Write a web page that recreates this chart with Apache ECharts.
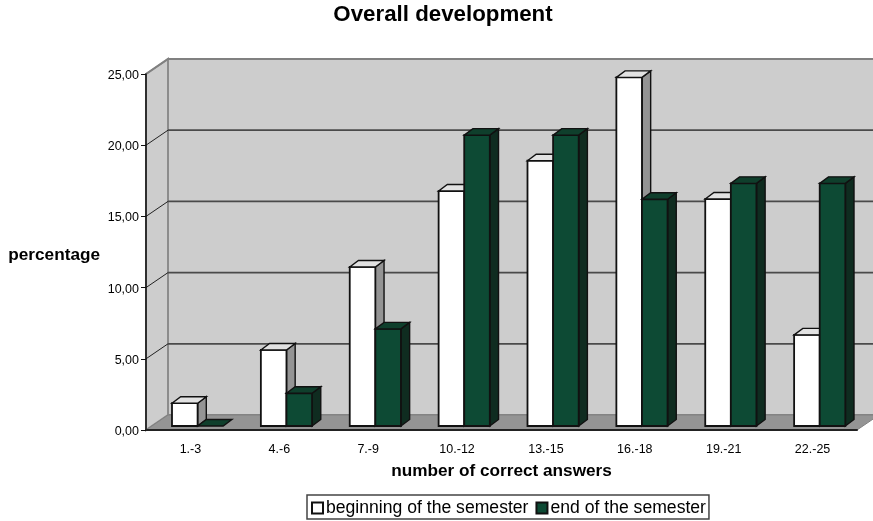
<!DOCTYPE html>
<html>
<head>
<meta charset="utf-8">
<style>html,body{margin:0;padding:0;background:#fff}#chart{width:873px;height:521px}</style>
<script src="https://cdn.jsdelivr.net/npm/echarts@6/dist/echarts.min.js"></script>
</head>
<body>
<div id="chart"></div>
<script>
const categories = ['1.-3', '4.-6', '7.-9', '10.-12', '13.-15', '16.-18', '19.-21', '22.-25'];
const beginningValues = [1.6, 5.34, 11.17, 16.5, 18.63, 24.48, 15.94, 6.4];
const endValues = [0, 2.3, 6.82, 20.43, 20.43, 15.92, 17.04, 17.04];
const gridTicks = [0, 5, 10, 15, 20, 25];

const FONT = '"Liberation Sans", Arial, sans-serif';
// Pseudo-3D projection: how far the back wall and each bar recede, in pixels.
const WALL_DX = 22, WALL_DY = -15;
const BAR_DX = 8.7, BAR_DY = -6.5;
const BAR_LIFT = 4;           // bars stand a little behind the front edge of the floor
const BAR_WIDTH = 0.288;      // share of one category band
const LINE = '#111';

function poly(points, fill, stroke, width) {
  return {
    type: 'polygon',
    shape: { points },
    style: { fill, stroke: stroke || 'none', lineWidth: width === undefined ? 1 : width }
  };
}

// Side wall, back wall and floor.
function renderRoom(params, api) {
  const c = params.coordSys;
  const l = c.x, r = c.x + c.width, t = c.y, b = c.y + c.height;
  return {
    type: 'group',
    children: [
      poly([[l + WALL_DX, t + WALL_DY], [r + WALL_DX, t + WALL_DY], [r + WALL_DX, b + WALL_DY], [l + WALL_DX, b + WALL_DY]], '#cdcdcd', '#868686', 2),
      poly([[l, t], [l + WALL_DX, t + WALL_DY], [l + WALL_DX, b + WALL_DY], [l, b]], '#cdcdcd', '#8c8c8c', 2),
      poly([[l, b], [l + WALL_DX, b + WALL_DY], [r + WALL_DX, b + WALL_DY], [r, b]], '#949494', '#808080', 1)
    ]
  };
}

// One grid line per tick, running along the side wall and across the back wall.
function renderGridLine(params, api) {
  const c = params.coordSys;
  const p = api.coord([0, api.value(0)]);
  const y = p[1];
  const top = api.value(0) === 25;
  return {
    type: 'group',
    children: [
      {
        type: 'line',
        shape: { x1: c.x, y1: y, x2: c.x + WALL_DX, y2: y + WALL_DY },
        style: { stroke: top ? '#808080' : '#222', lineWidth: top ? 1.6 : 1 }
      },
      {
        type: 'line',
        shape: { x1: c.x + WALL_DX, y1: y + WALL_DY, x2: c.x + c.width + WALL_DX, y2: y + WALL_DY },
        style: { stroke: top ? '#808080' : '#4a4a4a', lineWidth: top ? 2 : 1.7 }
      }
    ]
  };
}

function barRenderer(slot, front, side, cap) {
  return function (params, api) {
    const band = api.size([1, 0])[0];
    const w = band * BAR_WIDTH;
    const base = api.coord([api.value(0), 0]);
    const head = api.coord([api.value(0), api.value(1)]);
    const x0 = base[0] - band * 0.2075 + slot * w;
    const x1 = x0 + w;
    const yb = base[1] - BAR_LIFT;
    const yt = head[1] - BAR_LIFT;
    const children = [];
    if (yb - yt > 0.5) {
      children.push(poly([[x1, yb], [x1 + BAR_DX, yb + BAR_DY], [x1 + BAR_DX, yt + BAR_DY], [x1, yt]], side, LINE, 1.4));
      children.push(poly([[x0, yb], [x1, yb], [x1, yt], [x0, yt]], front, LINE, 1.8));
    }
    children.push(poly([[x0, yt], [x1, yt], [x1 + BAR_DX, yt + BAR_DY], [x0 + BAR_DX, yt + BAR_DY]], cap, LINE, 1.4));
    return { type: 'group', children };
  };
}

const toPoints = values => values.map((v, i) => [i, v]);

const chart = echarts.init(document.getElementById('chart'));
chart.setOption({
  animation: false,
  backgroundColor: '#fff',
  textStyle: { fontFamily: FONT },
  title: {
    text: 'Overall development',
    left: 438, top: -1, textAlign: 'center',
    textStyle: { fontFamily: FONT, fontSize: 22.3, fontWeight: 'bold', color: '#000' }
  },
  grid: { left: 146, right: 16, top: 74, bottom: 91, outerBoundsMode: 'none' },
  legend: {
    left: 307, top: 495,
    data: ['beginning of the semester', 'end of the semester'],
    itemWidth: 11, itemHeight: 11, itemGap: 7,
    padding: [4, 3, 2, 4],
    borderColor: '#444', borderWidth: 1.5,
    icon: 'rect',
    selectedMode: false,
    textStyle: { fontFamily: FONT, fontSize: 17.6, color: '#000', padding: [2, 0, 0, -2] }
  },
  xAxis: {
    type: 'category',
    data: categories,
    z: 5,
    name: 'number of correct answers',
    nameLocation: 'middle',
    nameGap: 33,
    nameTextStyle: { fontFamily: FONT, fontSize: 17.2, fontWeight: 'bold', color: '#000' },
    axisLine: { lineStyle: { color: '#222', width: 2 } },
    axisTick: { length: 6, alignWithLabel: false, lineStyle: { color: '#111', width: 1 } },
    axisLabel: { fontFamily: FONT, fontSize: 12.5, color: '#000', margin: 13 },
    splitLine: { show: false }
  },
  yAxis: {
    type: 'value',
    min: 0, max: 25, interval: 5,
    z: 5,
    name: 'percentage',
    nameLocation: 'middle',
    nameRotate: 0,
    nameGap: 46,
    nameTextStyle: { fontFamily: FONT, fontSize: 17.2, fontWeight: 'bold', color: '#000', verticalAlign: 'top', lineHeight: 6 },
    axisLine: { show: true, lineStyle: { color: '#111', width: 1.5 } },
    axisTick: { show: true, length: 5, lineStyle: { color: '#111', width: 1 } },
    axisLabel: {
      fontFamily: FONT, fontSize: 12.5, color: '#000', margin: 7, verticalAlign: 'top', lineHeight: 3,
      formatter: v => v.toFixed(2).replace('.', ',')
    },
    splitLine: { show: false }
  },
  series: [
    { type: 'custom', name: 'room', z: 1, silent: true, data: [[0, 0]], renderItem: renderRoom },
    { type: 'custom', name: 'grid', z: 1, silent: true, data: gridTicks.slice(1).map(t => [t]), encode: { y: 0 }, renderItem: renderGridLine },
    {
      type: 'custom', name: 'beginning of the semester', z: 3,
      itemStyle: { color: '#fff', borderColor: '#111', borderWidth: 1 },
      data: toPoints(beginningValues),
      encode: { x: 0, y: 1 },
      renderItem: barRenderer(0, '#ffffff', '#949494', '#e2e2e2')
    },
    {
      type: 'custom', name: 'end of the semester', z: 4,
      itemStyle: { color: '#0d4a34', borderColor: '#111', borderWidth: 1 },
      data: toPoints(endValues),
      encode: { x: 0, y: 1 },
      renderItem: barRenderer(1, '#0d4a34', '#0f2c20', '#0f3f2c')
    }
  ]
});
</script>
</body>
</html>
